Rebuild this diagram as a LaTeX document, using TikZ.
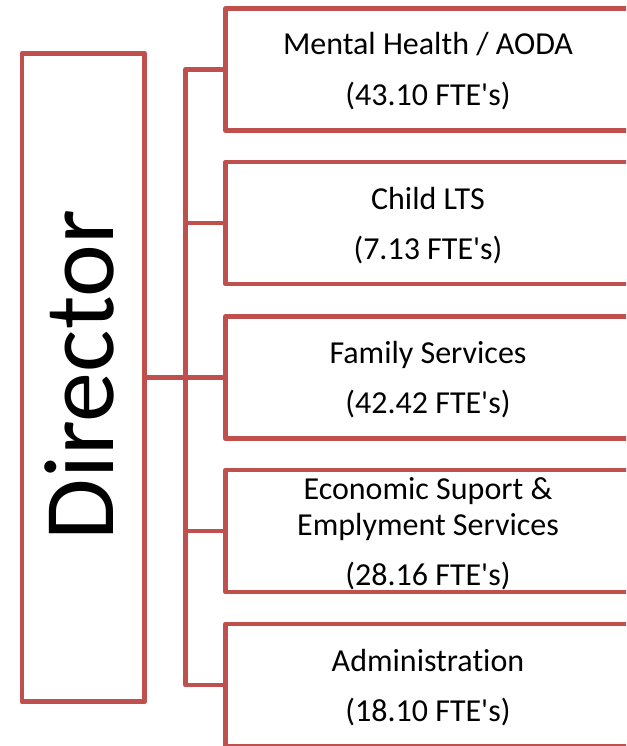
\documentclass[tikz,border=0pt]{standalone}
\usepackage{fontspec}
\setmainfont{Carlito}[Ligatures={TeX,NoCommon}]
\usepackage{xcolor}
\usetikzlibrary{positioning}
\definecolor{brick}{HTML}{C0504D}

\begin{document}
\begin{tikzpicture}[x=1pt,y=-1pt,
    orgline/.style={brick, line width=4.75pt, line join=round},
    orgbox/.style={draw=brick, line width=4.75pt, line join=round, rectangle, inner sep=0pt, minimum width=405pt, minimum height=122pt},
    unitlabel/.style={font=\fontsize{32}{36}\selectfont, anchor=base, inner sep=0pt}]
    \useasboundingbox (0,0) rectangle (626,746);
    \clip (0,0) rectangle (626,746);

    % Director
    \node[draw=brick, line width=4.75pt, line join=round, inner sep=0pt,
          minimum width=122.5pt, minimum height=648.5pt] (dir) at (83.25,377.5) {};
    \node[rotate=90, font=\fontsize{100}{100}\selectfont] (dirlabel) at (79,375) {Director};

    % Units
    \node[orgbox] (mh)  at (428,69.5) {};
    \node[orgbox] (cl)  at (428,223) {};
    \node[orgbox] (fam) at (428,377.5) {};
    \node[orgbox] (eco) at (428,531) {};
    \node[orgbox] (adm) at (428,685) {};

    \node[unitlabel] (mhname) at (428,55) {Mental Health / AODA};
    \node[unitlabel] (mhfte)  at (428,105.5) {(43.10 FTE\textquotesingle s)};

    \node[unitlabel] (clname) at (428,209) {Child LTS};
    \node[unitlabel] (clfte)  at (428,259) {(7.13 FTE\textquotesingle s)};

    \node[unitlabel] (famname) at (428,363) {Family Services};
    \node[unitlabel] (famfte)  at (428,413.5) {(42.42 FTE\textquotesingle s)};

    \node[unitlabel] (econameA) at (428,499.5) {Economic Suport \&};
    \node[unitlabel] (econameB) at (428,535) {Emplyment Services};
    \node[unitlabel] (ecofte)   at (428,585) {(28.16 FTE\textquotesingle s)};

    \node[unitlabel] (admname) at (428,671) {Administration};
    \node[unitlabel] (admfte)  at (428,721) {(18.10 FTE\textquotesingle s)};

    % Connectors
    \coordinate (trunkbot) at (185.5,685);
    \draw[orgline] (mh.west) -| (trunkbot) -- (adm.west);
    \draw[orgline] (trunkbot |- cl.west) -- (cl.west);
    \draw[orgline] (dir.east) -- (fam.west);
    \draw[orgline] (trunkbot |- eco.west) -- (eco.west);

\end{tikzpicture}
\end{document}
